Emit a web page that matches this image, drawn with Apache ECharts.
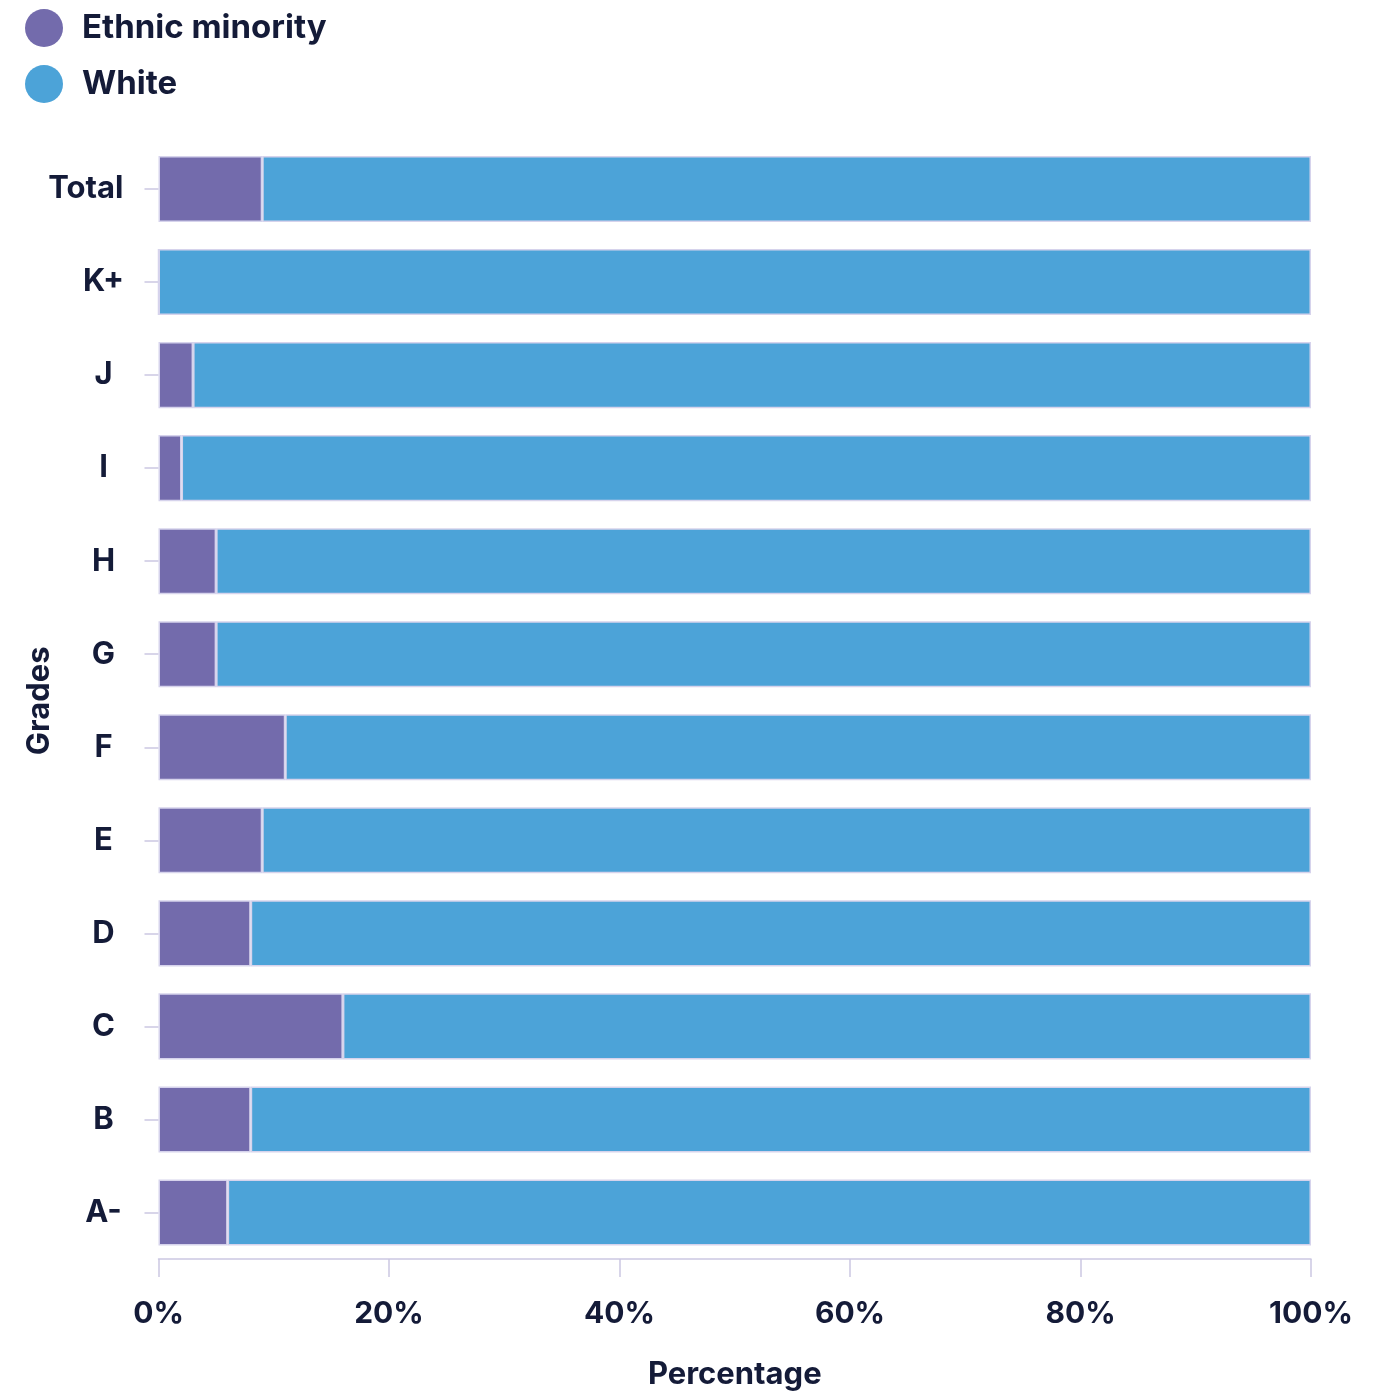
<!DOCTYPE html>
<html><head><meta charset="utf-8">
<script src="https://cdn.jsdelivr.net/npm/echarts@6/dist/echarts.min.js"></script>
<style>html,body{margin:0;padding:0;background:#fff}#c{width:1389px;height:1395px}</style>
</head><body><div id="c"></div>
<script>
const categories = ['A-','B','C','D','E','F','G','H','I','J','K+','Total'];
const ethnicMinority = [6, 8, 16, 8, 9, 11, 5, 5, 2, 3, 0, 9];
const white = [94, 92, 84, 92, 91, 89, 95, 95, 98, 97, 100, 91];
const xTicks = [0, 20, 40, 60, 80, 100];

const font = 'Inter';
const dark = '#141b38';
const lav = '#cbc8e2';
const chart = echarts.init(document.getElementById('c'));
chart.setOption({
  animation: false,
  textStyle: {fontFamily: font},
  legend: {
    orient: 'vertical', left: 20, top: 4, itemWidth: 38, itemHeight: 38, itemGap: 18,
    icon: 'circle',
    itemStyle: {borderWidth: 0},
    textStyle: {fontSize: 33, fontWeight: 700, color: dark, fontFamily: font, padding: [0,0,0,14]},
    data: ['Ethnic minority','White']
  },
  grid: {left: 158.5, right: 78, top: 142.5, bottom: 1395-1259.5},
  xAxis: {
    type: 'value', min: 0, max: 100, interval: 20,
    name: 'Percentage', nameLocation: 'middle', nameGap: 100, nameMoveOverlap: false,
    nameTextStyle: {fontSize: 31, fontWeight: 700, color: dark, fontFamily: font},
    axisLine: {show: true, lineStyle: {color: lav, width: 1.5}},
    axisTick: {show: true, length: 18, lineStyle: {color: lav, width: 1.5}},
    splitLine: {show: false},
    axisLabel: {fontSize: 30, fontWeight: 700, color: dark, margin: 40, fontFamily: font,
      formatter: v => xTicks.includes(v) ? v + '%' : ''}
  },
  yAxis: {
    type: 'category', data: categories,
    name: 'Grades', nameLocation: 'middle', nameGap: 103, nameRotate: 90, nameMoveOverlap: false,
    nameTextStyle: {fontSize: 31, fontWeight: 700, color: dark, fontFamily: font},
    axisLine: {show: false},
    axisTick: {show: true, length: 14, alignWithLabel: true, lineStyle: {color: lav, width: 1.5}},
    axisLabel: {
      margin: 35, fontSize: 31, fontWeight: 700, color: dark, fontFamily: font,
      formatter: v => v.length > 2 ? '{w|' + v + '}' : '{c|' + v + '}',
      rich: {
        w: {fontSize: 31, fontWeight: 700, color: dark, fontFamily: font},
        c: {fontSize: 31, fontWeight: 700, color: dark, fontFamily: font, width: 40, align: 'center'}
      }
    }
  },
  series: [
    {name: 'Ethnic minority', type: 'bar', stack: 'a', data: ethnicMinority, barCategoryGap: '29%',
     itemStyle: {color: '#736bac', borderColor: '#d6d3ec', borderWidth: 1.5}},
    {name: 'White', type: 'bar', stack: 'a', data: white, barCategoryGap: '29%',
     itemStyle: {color: '#4ca3d8', borderColor: '#d6d3ec', borderWidth: 1.5}}
  ]
});
</script></body></html>
